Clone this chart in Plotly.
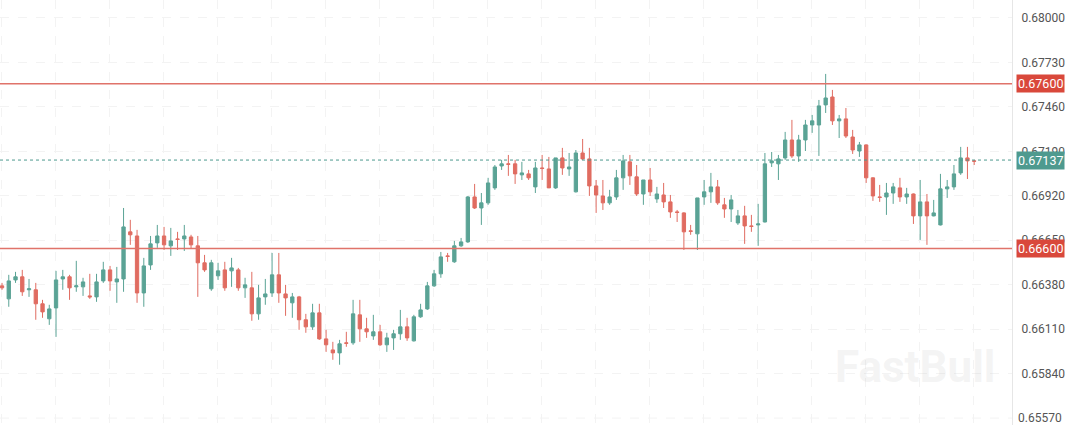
import plotly.graph_objects as go

open_ = [0.66373,0.66294,0.66409,0.66428,0.66349,0.66349,0.66264,0.66173,0.66239,0.66415,
0.66428,0.66367,0.66367,0.66312,0.66306,0.66403,0.66470,0.66397,0.66415,0.66701,
0.66676,0.66330,0.66500,0.66634,0.66676,0.66616,0.66658,0.66658,0.66670,0.66616,
0.66513,0.66355,0.66434,0.66470,0.66464,0.66470,0.66361,0.66361,0.66203,0.66306,
0.66330,0.66440,0.66324,0.66270,0.66306,0.66167,0.66124,0.66209,0.66051,0.65984,
0.65966,0.66027,0.66027,0.66197,0.66112,0.66069,0.66094,0.66015,0.66057,0.66082,
0.66124,0.66039,0.66185,0.66233,0.66373,0.66446,0.66555,0.66519,0.66616,0.66640,
0.66913,0.66846,0.66877,0.66968,0.67101,0.67114,0.67114,0.67047,0.67053,0.66974,
0.67089,0.67083,0.66968,0.67150,0.67083,0.66944,0.67180,0.67144,0.66980,0.66919,
0.66877,0.66913,0.67029,0.67126,0.67035,0.66931,0.67016,0.66901,0.66925,0.66883,
0.66822,0.66816,0.66707,0.66689,0.66913,0.66944,0.66974,0.66865,0.66840,0.66755,
0.66798,0.66737,0.66743,0.66761,0.67120,0.67114,0.67150,0.67259,0.67162,0.67259,
0.67350,0.67350,0.67472,0.67520,0.67375,0.67387,0.67277,0.67192,0.67229,0.67029,
0.66913,0.66913,0.66937,0.66968,0.66913,0.66931,0.66798,0.66883,0.66798,0.66743,
0.66962,0.66974,0.67059,0.67150,0.67132]
high = [0.66391,0.66440,0.66458,0.66470,0.66415,0.66391,0.66288,0.66258,0.66464,0.66470,
0.66440,0.66525,0.66422,0.66446,0.66446,0.66519,0.66494,0.66488,0.66846,0.66774,
0.66713,0.66543,0.66676,0.66743,0.66731,0.66725,0.66701,0.66743,0.66683,0.66676,
0.66561,0.66531,0.66513,0.66519,0.66543,0.66482,0.66422,0.66458,0.66379,0.66415,
0.66573,0.66573,0.66379,0.66330,0.66312,0.66203,0.66264,0.66264,0.66106,0.66033,
0.66045,0.66094,0.66288,0.66288,0.66179,0.66197,0.66136,0.66088,0.66106,0.66227,
0.66179,0.66197,0.66264,0.66397,0.66470,0.66579,0.66573,0.66646,0.66664,0.66919,
0.66992,0.66937,0.67029,0.67107,0.67138,0.67168,0.67138,0.67126,0.67077,0.67126,
0.67168,0.67156,0.67150,0.67211,0.67180,0.67198,0.67265,0.67211,0.67016,0.67016,
0.66956,0.67077,0.67168,0.67168,0.67107,0.67016,0.67089,0.66974,0.66998,0.66925,
0.66834,0.66820,0.66743,0.66907,0.67016,0.67059,0.67016,0.66907,0.66925,0.66834,
0.66859,0.66804,0.66871,0.67180,0.67186,0.67168,0.67308,0.67381,0.67290,0.67381,
0.67411,0.67502,0.67660,0.67563,0.67411,0.67453,0.67320,0.67247,0.67232,0.67032,
0.66986,0.66998,0.66998,0.67029,0.66968,0.66934,0.67016,0.66931,0.66895,0.67053,
0.67016,0.67107,0.67217,0.67217,0.67138]
low = [0.66349,0.66246,0.66391,0.66312,0.66306,0.66167,0.66179,0.66136,0.66063,0.66349,
0.66288,0.66337,0.66312,0.66294,0.66276,0.66391,0.66343,0.66270,0.66337,0.66622,
0.66270,0.66246,0.66470,0.66604,0.66591,0.66555,0.66591,0.66585,0.66598,0.66306,
0.66458,0.66343,0.66409,0.66343,0.66367,0.66343,0.66300,0.66161,0.66167,0.66258,
0.66306,0.66270,0.66191,0.66179,0.66106,0.66088,0.66106,0.66045,0.65972,0.65924,
0.65894,0.66003,0.66015,0.66033,0.66057,0.66045,0.66009,0.65972,0.65984,0.66045,
0.66039,0.66035,0.66179,0.66227,0.66367,0.66422,0.66519,0.66513,0.66610,0.66634,
0.66840,0.66743,0.66865,0.66956,0.67077,0.67041,0.66992,0.67016,0.67016,0.66937,
0.67016,0.66968,0.66962,0.67047,0.67041,0.66940,0.67138,0.66919,0.66816,0.66834,
0.66865,0.66895,0.66956,0.66986,0.66919,0.66865,0.66919,0.66877,0.66846,0.66786,
0.66761,0.66591,0.66683,0.66591,0.66865,0.66877,0.66865,0.66786,0.66761,0.66743,
0.66628,0.66701,0.66616,0.66758,0.67095,0.67016,0.67138,0.67150,0.67126,0.67192,
0.67302,0.67162,0.67423,0.67350,0.67271,0.67271,0.67174,0.67156,0.66998,0.66889,
0.66883,0.66804,0.66871,0.66883,0.66871,0.66749,0.66652,0.66622,0.66795,0.66740,
0.66907,0.66956,0.67047,0.67022,0.67107]
close = [0.66361,0.66403,0.66428,0.66337,0.66355,0.66264,0.66215,0.66233,0.66409,0.66428,
0.66361,0.66373,0.66397,0.66306,0.66397,0.66470,0.66403,0.66415,0.66731,0.66683,
0.66330,0.66494,0.66628,0.66676,0.66622,0.66646,0.66655,0.66676,0.66622,0.66513,
0.66470,0.66513,0.66464,0.66361,0.66482,0.66361,0.66379,0.66203,0.66300,0.66324,
0.66440,0.66330,0.66300,0.66306,0.66167,0.66124,0.66209,0.66051,0.66015,0.65966,
0.66021,0.66024,0.66203,0.66112,0.66094,0.66094,0.66015,0.66057,0.66082,0.66124,
0.66057,0.66185,0.66227,0.66373,0.66446,0.66549,0.66552,0.66616,0.66640,0.66913,
0.66846,0.66877,0.66998,0.67095,0.67114,0.67111,0.67053,0.67059,0.67029,0.67089,
0.67086,0.66968,0.67150,0.67089,0.67095,0.67180,0.67144,0.66980,0.66925,0.66877,
0.66913,0.67029,0.67132,0.67041,0.66931,0.67016,0.66944,0.66931,0.66883,0.66822,
0.66819,0.66701,0.66704,0.66907,0.66944,0.66974,0.66877,0.66840,0.66895,0.66798,
0.66737,0.66734,0.66749,0.67114,0.67132,0.67144,0.67259,0.67162,0.67259,0.67350,
0.67375,0.67466,0.67514,0.67375,0.67387,0.67283,0.67198,0.67229,0.67029,0.66919,
0.66910,0.66937,0.66974,0.66913,0.66931,0.66798,0.66883,0.66798,0.66816,0.66962,
0.66974,0.67053,0.67150,0.67132,0.67130]
idx = list(range(len(open_)))

y_ticks = [0.68000,0.67730,0.67460,0.67190,0.66920,0.66650,0.66380,0.66110,0.65840]
edge_tick = 0.65570
levels = [0.67600, 0.66600]
last_price = 0.67137

GREEN = "#5aa395"
RED = "#e06c61"

fig = go.Figure(go.Candlestick(
    x=idx, open=open_, high=high, low=low, close=close,
    increasing=dict(line=dict(color=GREEN, width=1), fillcolor=GREEN),
    decreasing=dict(line=dict(color=RED, width=1), fillcolor=RED),
    whiskerwidth=0, showlegend=False, hoverinfo="skip"))

for lv in levels:
    fig.add_hline(y=lv, line=dict(color="#e0736a", width=1.5))
fig.add_hline(y=last_price, line=dict(color="#4e9a8f", width=1, dash="dot"))
fig.add_hline(y=edge_tick, line=dict(color="#f3f3f3", width=1, dash="dash"))

fig.add_annotation(x=1, xref="paper", xanchor="left", y=edge_tick, yref="y",
                   text=f"{edge_tick:.5f}", showarrow=False, xshift=4,
                   font=dict(size=12, color="#555", family="Roboto"))

def tag(v, color):
    fig.add_annotation(x=1, xref="paper", xanchor="left", y=v, yref="y",
                       text=f"{v:.5f}", showarrow=False, bgcolor=color,
                       font=dict(color="white", size=12.5, family="Roboto"),
                       borderpad=1, xshift=4)
for lv in levels:
    tag(lv, "#d9483b")
tag(last_price, "#4e9a8f")

fig.add_annotation(x=0.985, y=0.07, xref="paper", yref="paper", xanchor="right", yanchor="bottom",
                   text="<b>FastBull</b>", showarrow=False,
                   font=dict(size=44, color="rgba(205,205,205,0.22)", family="Roboto"))

fig.update_layout(
    width=1080, height=425, margin=dict(l=0, r=68, t=0, b=0),
    paper_bgcolor="white", plot_bgcolor="white",
    xaxis=dict(range=[-0.3, 149.6], rangeslider=dict(visible=False), showticklabels=False,
               showgrid=True, gridcolor="#f3f3f3", griddash="dash", tick0=7.85, dtick=8,
               zeroline=False, showline=False),
    yaxis=dict(side="right", range=[0.65528, 0.68109], tickvals=y_ticks,
               ticktext=[f"{v:.5f}" for v in y_ticks], showgrid=True, gridcolor="#f3f3f3",
               griddash="dash", zeroline=False, showline=True, linecolor="#e6e6e6",
               ticks="", ticklabelstandoff=6,
               tickfont=dict(size=12, color="#555", family="Roboto")),
)
fig.write_html("out.html", config={"displayModeBar": False},
               post_script="document.body.style.margin='0';window.dispatchEvent(new Event('resize'));")
